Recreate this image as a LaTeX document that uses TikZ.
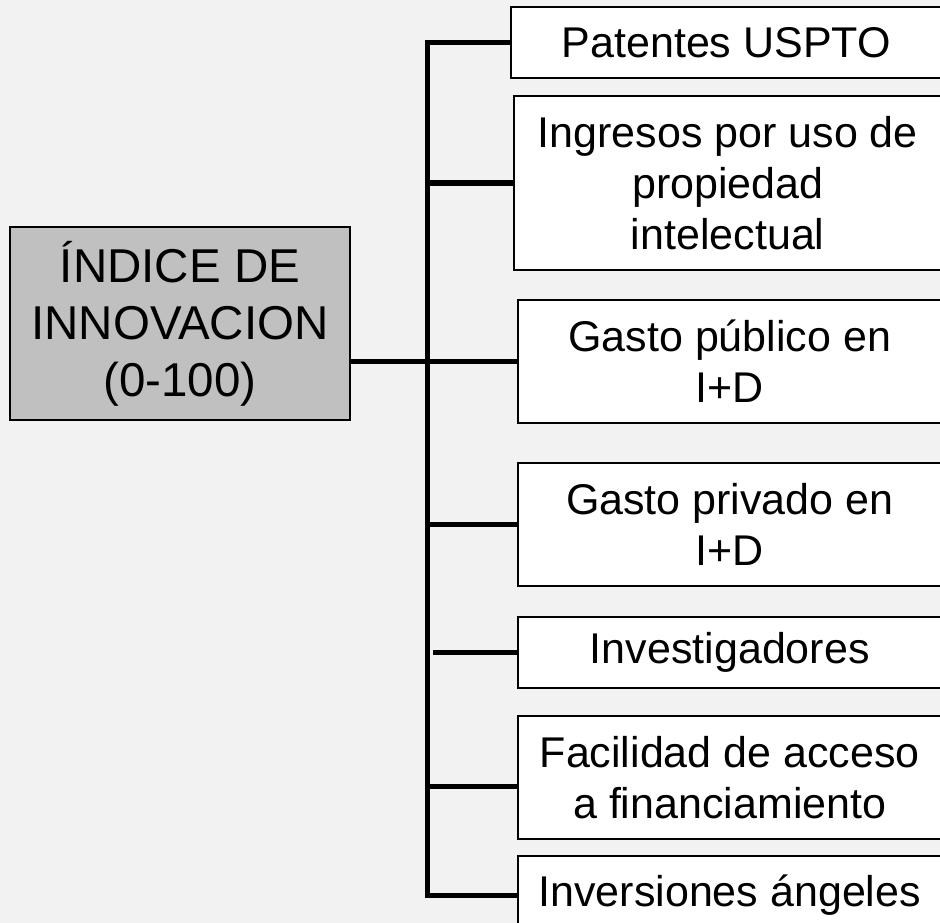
\documentclass[tikz,border=0pt]{standalone}
\usepackage{fontspec}
\setmainfont{Liberation Sans}
\usetikzlibrary{positioning}
\definecolor{bg}{HTML}{F2F2F2}
\definecolor{rootgray}{HTML}{C0C0C0}

\begin{document}
\begin{tikzpicture}[x=1pt, y=-1pt,
    item/.style={draw, line width=1.5pt, fill=white, anchor=west, align=center, inner sep=0pt, minimum width=424pt, font=\fontsize{43}{51}\selectfont},
    root/.style={draw, line width=1.5pt, fill=rootgray, align=center, inner sep=0pt, minimum width=340pt, minimum height=193pt, font=\fontsize{47.5}{57}\selectfont},
    link/.style={line width=5pt}]
    \fill[bg] (0,0) rectangle (940,923);
    \useasboundingbox (0,0) rectangle (940,923);
    \clip (0,0) rectangle (940,923);

    \node[root] (indice) at (180,323.5) {ÍNDICE DE\\INNOVACION\\(0-100)};

    \node[item, minimum width=431pt, minimum height=71pt] (patentes) at (510,42.5) {Patentes USPTO};
    \node[item, minimum width=428pt, minimum height=174pt] (ingresos) at (513,183) {Ingresos por uso de\\propiedad\\intelectual};
    \node[item, minimum height=123pt] (publico) at (517,361.5) {Gasto público en\\I+D};
    \node[item, minimum height=123pt] (privado) at (517,524.5) {Gasto privado en\\I+D};
    \node[item, minimum height=71pt] (investigadores) at (517,652.5) {Investigadores};
    \node[item, minimum height=123pt] (facilidad) at (517,777.5) {Facilidad de acceso\\a financiamiento};
    \node[item, minimum height=78pt] (inversiones) at (517,895) {Inversiones ángeles};

    \coordinate (bustop) at (427,42.5);
    \coordinate (busbot) at (427,895);
    \coordinate (facin) at ([yshift=-8.5pt]facilidad.west);

    \draw[link] (patentes.west) -- (bustop) -- (busbot) -- (inversiones.west);
    \draw[link] (indice.east |- publico.west) -- (publico.west);
    \draw[link] (bustop |- ingresos.west) -- (ingresos.west);
    \draw[link] (bustop |- privado.west) -- (privado.west);
    \draw[link] ([xshift=6pt]bustop |- investigadores.west) -- (investigadores.west);
    \draw[link] (bustop |- facin) -- (facin);
\end{tikzpicture}
\end{document}
